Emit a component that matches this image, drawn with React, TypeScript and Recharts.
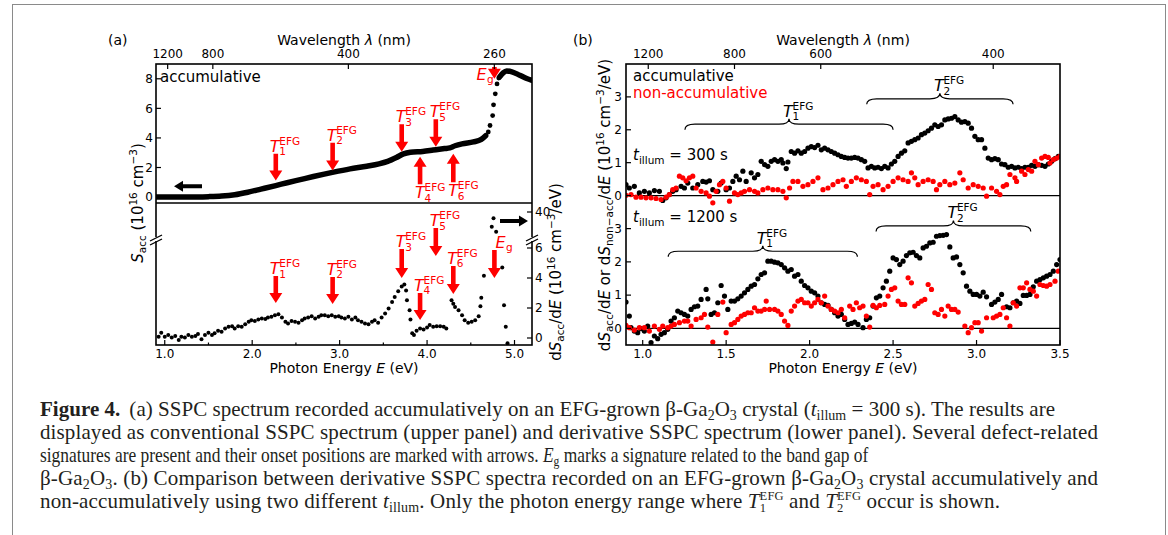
import { ComposedChart, Scatter, Line, XAxis, YAxis, ReferenceLine } from "recharts";

const FONT = "'DejaVu Sans', sans-serif";
const SERIF = "'Liberation Serif', serif";
const RED = "#ff0000";

// (a) conventional SSPC spectrum: [E (eV), S_acc (1e16 cm^-3)]
const aConvSmooth = [
  [0.9, 0.0], [1.1, 0.0], [1.3, 0.01], [1.5, 0.03], [1.65, 0.07], [1.8, 0.16], [1.95, 0.33],
  [2.1, 0.54], [2.27, 0.78], [2.4, 0.97], [2.55, 1.18], [2.7, 1.39], [2.93, 1.69], [3.12, 1.91],
  [3.31, 2.09], [3.45, 2.25], [3.55, 2.42], [3.65, 2.68], [3.73, 2.92], [3.81, 3.03], [3.95, 3.09],
  [4.07, 3.18], [4.2, 3.28], [4.26, 3.33], [4.32, 3.47], [4.4, 3.6], [4.53, 3.73], [4.62, 3.9], [4.67, 4.15],
];
const aConvRise = [[4.7, 4.4], [4.72, 4.84], [4.75, 5.51], [4.76, 6.24], [4.78, 6.98], [4.8, 7.65], [4.82, 8.05]];
const aConvTop = [[4.83, 8.13], [4.87, 8.4], [4.91, 8.53], [4.97, 8.47], [5.06, 8.24], [5.14, 8.02], [5.2, 7.9]];

// (a) derivative spectrum: [E, dS_acc/dE (1e16 cm^-3/eV)]
const aDeriv = [
  [0.93, 0.09], [0.96, 0.35], [1.0, 0.09], [1.04, 0.2], [1.08, 0.04], [1.12, 0.13], [1.16, -0.13], [1.19, 0.09],
  [1.23, 0.04], [1.27, 0.2], [1.31, 0.09], [1.35, 0.13], [1.38, 0.26], [1.42, -0.09], [1.46, 0.2], [1.5, 0.35],
  [1.54, 0.2], [1.57, 0.31], [1.61, 0.48], [1.65, 0.42], [1.69, 0.64], [1.73, 0.75], [1.77, 0.79], [1.8, 0.64],
  [1.84, 0.79], [1.88, 0.75], [1.92, 0.92], [1.96, 1.08], [1.99, 1.19], [2.03, 1.14], [2.07, 1.23], [2.11, 1.3],
  [2.15, 1.27], [2.18, 1.36], [2.22, 1.41], [2.26, 1.52], [2.3, 1.58], [2.34, 1.36], [2.38, 1.08], [2.41, 0.97],
  [2.45, 1.14], [2.49, 1.08], [2.53, 1.01], [2.57, 1.19], [2.6, 1.3], [2.64, 1.36], [2.68, 1.45], [2.72, 1.3],
  [2.76, 1.41], [2.79, 1.52], [2.83, 1.52], [2.87, 1.45], [2.91, 1.52], [2.95, 1.41], [2.99, 1.45], [3.02, 1.36],
  [3.06, 1.3], [3.1, 1.41], [3.14, 1.23], [3.18, 1.36], [3.21, 1.19], [3.25, 1.08], [3.29, 0.97], [3.33, 0.92],
  [3.37, 1.08], [3.4, 1.19], [3.44, 1.01], [3.48, 1.36], [3.52, 1.63], [3.56, 1.96], [3.6, 2.4], [3.63, 2.73],
  [3.67, 3.12], [3.71, 3.43], [3.74, 3.56], [3.76, 3.16], [3.77, 2.51], [3.8, 1.85], [3.81, 1.23], [3.83, 0.31],
  [3.85, 0.2], [3.88, 0.48], [3.92, 0.64], [3.96, 0.57], [4.0, 0.7], [4.03, 0.86], [4.07, 0.75], [4.11, 0.79],
  [4.15, 0.79], [4.19, 0.75], [4.22, 0.64], [4.28, 2.51], [4.3, 2.29], [4.32, 2.07], [4.36, 1.85], [4.4, 1.52],
  [4.43, 1.19], [4.47, 1.01], [4.51, 1.08], [4.55, 1.19], [4.59, 1.45], [4.61, 2.11], [4.62, 2.68], [4.65, 4.15],
  [4.86, 4.7], [4.88, 2.18], [4.9, 0.75], [4.92, -0.35],
];
const aDerivHigh = [[4.74, 39.02], [4.76, 39.58], [4.79, 38.69]];

// (b) derivative spectra: [E, dS/dE]
const bAcc300 = [
  [0.9, 0.33], [0.92, 0.23], [0.95, 0.28], [0.98, 0.08], [1.01, 0.13], [1.04, 0.08], [1.07, 0.15], [1.1, 0.13],
  [1.12, -0.15], [1.14, -0.07], [1.16, 0.03], [1.18, 0.13], [1.2, 0.18], [1.23, 0.28], [1.25, 0.23], [1.27, 0.38],
  [1.3, 0.23], [1.33, 0.33], [1.36, 0.43], [1.38, 0.41], [1.4, 0.45], [1.42, 0.18], [1.45, 0.13], [1.47, 0.38],
  [1.5, 0.18], [1.52, 0.23], [1.54, 0.43], [1.56, 0.59], [1.58, 0.48], [1.6, 0.74], [1.62, 0.43], [1.65, 0.69],
  [1.67, 0.54], [1.69, 0.64], [1.71, 1.04], [1.73, 0.94], [1.75, 0.89], [1.77, 1.04], [1.79, 1.09], [1.81, 1.04],
  [1.83, 1.09], [1.84, 0.99], [1.86, 0.82], [1.87, 1.02], [1.89, 1.34], [1.91, 1.29], [1.93, 1.36], [1.95, 1.29],
  [1.97, 1.34], [1.99, 1.44], [2.01, 1.49], [2.03, 1.46], [2.05, 1.53], [2.07, 1.39], [2.09, 1.44], [2.11, 1.39],
  [2.13, 1.34], [2.15, 1.29], [2.17, 1.24], [2.19, 1.19], [2.21, 1.16], [2.23, 1.14], [2.25, 1.14], [2.27, 1.16],
  [2.29, 1.14], [2.31, 1.09], [2.33, 1.04], [2.35, 0.84], [2.37, 0.89], [2.39, 0.84], [2.41, 0.86], [2.43, 0.82],
  [2.45, 0.89], [2.47, 0.84], [2.49, 0.96], [2.51, 1.04], [2.53, 1.19], [2.55, 1.29], [2.57, 1.36], [2.59, 1.6],
  [2.61, 1.65], [2.63, 1.7], [2.65, 1.75], [2.67, 1.85], [2.69, 1.9], [2.71, 1.97], [2.73, 2.05], [2.75, 2.15],
  [2.77, 2.1], [2.79, 2.15], [2.81, 2.3], [2.83, 2.33], [2.85, 2.35], [2.87, 2.4], [2.89, 2.3], [2.91, 2.23],
  [2.93, 2.25], [2.95, 2.2], [2.97, 2.05], [2.99, 1.8], [3.01, 1.7], [3.03, 1.7], [3.05, 1.44], [3.07, 1.14],
  [3.09, 1.09], [3.11, 1.12], [3.13, 1.09], [3.15, 0.96], [3.17, 0.94], [3.19, 0.86], [3.21, 0.89], [3.23, 0.84],
  [3.25, 0.86], [3.27, 0.82], [3.29, 0.86], [3.31, 0.86], [3.33, 0.92], [3.35, 0.89], [3.37, 0.94], [3.39, 0.92],
  [3.41, 0.89], [3.43, 0.96], [3.45, 1.04], [3.47, 1.12], [3.49, 1.19],
];
const bNon300 = [
  [0.9, 0.01], [0.93, 0.03], [0.96, -0.05], [0.99, -0.05], [1.02, -0.07], [1.05, -0.07], [1.08, -0.09], [1.11, -0.12],
  [1.14, -0.05], [1.16, 0.03], [1.18, 0.18], [1.2, 0.23], [1.22, 0.59], [1.24, 0.54], [1.26, 0.45], [1.28, 0.54],
  [1.3, 0.59], [1.32, 0.23], [1.35, 0.13], [1.38, 0.08], [1.4, -0.02], [1.42, -0.22], [1.44, 0.13], [1.46, 0.33],
  [1.48, 0.43], [1.5, 0.23], [1.52, -0.17], [1.55, 0.08], [1.57, 0.03], [1.59, 0.08], [1.61, 0.13], [1.64, 0.18],
  [1.67, 0.13], [1.69, 0.08], [1.72, 0.18], [1.75, 0.23], [1.78, 0.18], [1.81, 0.18], [1.84, 0.13], [1.86, -0.07],
  [1.88, 0.23], [1.9, 0.43], [1.93, 0.43], [1.96, 0.28], [1.99, 0.33], [2.02, 0.43], [2.05, 0.54], [2.08, 0.18],
  [2.11, 0.23], [2.14, 0.33], [2.17, 0.43], [2.2, 0.48], [2.22, 0.28], [2.25, 0.43], [2.28, 0.54], [2.31, 0.48],
  [2.34, 0.43], [2.36, 0.03], [2.38, 0.28], [2.41, 0.33], [2.44, 0.18], [2.47, 0.28], [2.5, 0.43], [2.53, 0.54],
  [2.56, 0.48], [2.59, 0.43], [2.61, 0.69], [2.63, 0.54], [2.65, 0.33], [2.68, 0.43], [2.71, 0.48], [2.74, 0.43],
  [2.76, 0.18], [2.78, 0.33], [2.81, 0.43], [2.84, 0.33], [2.87, 0.38], [2.9, 0.69], [2.92, 0.48], [2.95, 0.23],
  [2.98, 0.33], [3.01, 0.28], [3.04, 0.23], [3.06, -0.02], [3.09, 0.23], [3.12, 0.13], [3.14, 0.03], [3.16, 0.28],
  [3.18, 0.33], [3.2, 0.64], [3.23, 0.54], [3.24, 0.43], [3.27, 0.74], [3.29, 0.64], [3.31, 0.79], [3.33, 0.74],
  [3.35, 1.04], [3.37, 0.94], [3.39, 1.14], [3.41, 1.19], [3.43, 1.16], [3.44, 0.99], [3.46, 1.09], [3.48, 1.14],
  [3.5, 1.19],
];
const bAcc1200 = [
  [0.9, 0.79], [0.92, 0.37], [0.93, 0.02], [0.95, -0.08], [0.97, -0.13], [0.99, -0.01], [1.01, -0.08], [1.03, 0.07],
  [1.05, -0.43], [1.07, -0.23], [1.09, -0.31], [1.11, -0.18], [1.13, -0.13], [1.15, -0.03], [1.17, 0.22], [1.19, 0.32],
  [1.21, 0.52], [1.23, 0.47], [1.25, 0.42], [1.27, 0.37], [1.29, 0.57], [1.31, 0.65], [1.33, 0.67], [1.35, 0.87],
  [1.38, 1.17], [1.39, 0.89], [1.41, 0.42], [1.43, 0.47], [1.45, 0.77], [1.47, 1.29], [1.49, 0.97], [1.51, 0.57],
  [1.53, 0.82], [1.55, 0.82], [1.57, 0.89], [1.59, 0.97], [1.61, 1.07], [1.63, 1.17], [1.65, 1.27], [1.67, 1.32],
  [1.69, 1.49], [1.71, 1.62], [1.73, 1.67], [1.75, 2.02], [1.77, 2.02], [1.79, 1.99], [1.81, 1.97], [1.83, 1.92],
  [1.85, 1.82], [1.87, 1.72], [1.89, 1.77], [1.91, 1.57], [1.93, 1.62], [1.95, 1.42], [1.97, 1.29], [1.99, 1.22],
  [2.01, 1.12], [2.03, 1.07], [2.05, 0.97], [2.07, 0.77], [2.09, 0.72], [2.11, 0.69], [2.13, 0.57], [2.15, 0.47],
  [2.17, 0.37], [2.19, 0.42], [2.21, 0.27], [2.23, 0.12], [2.25, 0.15], [2.27, 0.19], [2.29, 0.12], [2.32, 0.02],
  [2.34, 0.27], [2.36, 0.32], [2.38, 0.67], [2.4, 0.92], [2.42, 0.97], [2.44, 1.22], [2.46, 1.42], [2.48, 1.72],
  [2.5, 2.12], [2.52, 2.07], [2.54, 1.92], [2.56, 2.02], [2.58, 2.19], [2.6, 2.27], [2.62, 2.29], [2.64, 2.19],
  [2.66, 2.12], [2.68, 2.42], [2.7, 2.47], [2.72, 2.57], [2.74, 2.59], [2.76, 2.77], [2.78, 2.79], [2.8, 2.8],
  [2.82, 2.82], [2.84, 2.45], [2.86, 2.12], [2.88, 2.15], [2.9, 1.92], [2.92, 1.67], [2.94, 1.27], [2.96, 1.12],
  [2.98, 1.02], [3.0, 1.02], [3.02, 0.97], [3.04, 1.09], [3.06, 0.95], [3.09, 0.72], [3.11, 0.79], [3.13, 0.87],
  [3.15, 1.02], [3.18, 0.65], [3.2, 0.62], [3.22, 0.77], [3.24, 0.82], [3.26, 0.75], [3.28, 0.99], [3.3, 0.99],
  [3.32, 1.02], [3.34, 1.25], [3.36, 1.42], [3.38, 1.47], [3.4, 1.52], [3.42, 1.57], [3.44, 1.62], [3.46, 1.72],
  [3.48, 1.92], [3.5, 2.07],
];
const bNon1200 = [
  [0.9, 0.09], [0.92, 0.02], [0.95, -0.05], [0.98, 0.02], [1.01, 0.02], [1.04, -0.08], [1.07, 0.07], [1.1, -0.03],
  [1.12, 0.07], [1.15, 0.02], [1.17, 0.07], [1.19, 0.12], [1.22, 0.17], [1.25, 0.22], [1.27, 0.22], [1.29, 0.07],
  [1.32, 0.27], [1.35, 0.32], [1.37, 0.42], [1.39, 0.04], [1.42, -0.41], [1.45, 0.42], [1.48, 0.79], [1.5, -0.13],
  [1.53, 0.12], [1.55, 0.17], [1.57, 0.27], [1.59, 0.37], [1.61, 0.42], [1.63, 0.47], [1.65, 0.47], [1.67, 0.62],
  [1.69, 0.52], [1.71, 0.52], [1.73, 0.57], [1.74, 0.82], [1.76, 0.57], [1.79, 0.57], [1.81, 0.52], [1.83, 0.42],
  [1.85, 0.22], [1.87, 0.09], [1.89, 0.52], [1.91, 0.67], [1.93, 0.82], [1.95, 0.87], [1.97, 0.77], [1.99, 0.77],
  [2.01, 0.67], [2.03, 0.77], [2.05, 0.87], [2.07, 0.77], [2.09, 0.97], [2.11, 0.67], [2.13, 0.57], [2.15, 0.52],
  [2.17, 0.47], [2.19, 0.57], [2.21, 0.32], [2.24, 0.67], [2.26, 0.57], [2.28, 0.77], [2.3, 0.62], [2.32, 0.67],
  [2.34, 0.37], [2.36, 0.04], [2.38, 0.69], [2.4, 0.62], [2.42, 0.69], [2.45, 0.72], [2.47, 0.97], [2.49, 1.17],
  [2.51, 1.22], [2.53, 0.82], [2.55, 0.72], [2.57, 0.72], [2.59, 1.52], [2.61, 1.37], [2.63, 0.67], [2.65, 0.75],
  [2.67, 0.82], [2.69, 0.87], [2.71, 1.32], [2.73, 1.17], [2.75, 0.47], [2.77, 0.42], [2.79, 0.57], [2.81, 0.37],
  [2.83, 0.67], [2.85, 0.57], [2.87, 0.57], [2.89, 0.49], [2.93, 0.07], [2.95, -0.13], [2.97, 0.02], [2.99, 0.17],
  [3.01, 0.17], [3.03, -0.08], [3.06, 0.32], [3.1, 0.32], [3.12, 0.37], [3.14, 0.42], [3.16, 0.62], [3.18, 0.32],
  [3.2, 0.07], [3.22, 0.77], [3.24, 0.67], [3.26, 1.22], [3.28, 1.22], [3.3, 1.37], [3.32, 1.17], [3.34, 1.12],
  [3.36, 0.97], [3.38, 1.32], [3.4, 1.29], [3.42, 1.27], [3.44, 1.32], [3.47, 1.42], [3.49, 1.72],
];

// tick values and labels
const aWaveLabels = [1200, 800, 400, 260];
const bWaveLabels = [1200, 800, 600, 400];
const aEnergyTicks = [1.0, 1.5, 2.0, 2.5, 3.0, 3.5, 4.0, 4.5, 5.0];
const bEnergyTicks = [1.0, 1.5, 2.0, 2.5, 3.0, 3.5];
const aConvTicks = [0, 2, 4, 6, 8];
const aDerivTicks = [0, 2, 4, 6];
const aDerivHighTicks = [40];
const bTicks = [0, 1, 2, 3];

// onset markers in (a): tail value -> tip value
const aConvMarks = [
  { name: "1", e: 2.27, from: 2.93, to: 1.13 },
  { name: "2", e: 2.92, from: 3.67, to: 1.8 },
  { name: "3", e: 3.71, from: 4.93, to: 3.07 },
  { name: "5", e: 4.1, from: 5.27, to: 3.4 },
  { name: "4", e: 3.92, from: 0.87, to: 2.73 },
  { name: "6", e: 4.3, from: 1.0, to: 2.93 },
  { name: "g", e: 4.77, from: 8.8, to: 8.0 },
];
const aDerivMarks = [
  { name: "1", e: 2.27, from: 4.13, to: 2.33 },
  { name: "2", e: 2.92, from: 4.07, to: 2.27 },
  { name: "3", e: 3.71, from: 5.93, to: 4.0 },
  { name: "5", e: 4.1, from: 7.33, to: 5.47 },
  { name: "4", e: 3.92, from: 3.0, to: 1.2 },
  { name: "6", e: 4.3, from: 4.8, to: 2.93 },
  { name: "g", e: 4.77, from: 5.87, to: 4.0 },
];

// brackets in (b)
const bBrackets300 = [
  { name: "1", e1: 1.253, e2: 2.5, y: 2.17 },
  { name: "2", e1: 2.342, e2: 3.219, y: 2.94 },
];
const bBrackets1200 = [
  { name: "1", e1: 1.153, e2: 2.286, y: 2.32 },
  { name: "2", e1: 2.398, e2: 3.325, y: 3.08 },
];

const xy = (a: number[][]) => a.map(([x, y]) => ({ x, y }));
const waveToE = (l: number) => 1240 / l;

type Side = "left" | "right" | "top" | "bottom";
function tickFor(side: Side, m: number, fmt: ((v: number) => string) | null, minor?: (v: number) => boolean) {
  return (p: any) => {
    const { x, y, payload } = p;
    const v = payload.value;
    const isMinor = minor ? minor(v) : false;
    const len = isMinor ? 2.5 : 5;
    let x1 = x, x2 = x, y1 = y, y2 = y;
    if (side === "left") { x1 = x + m; x2 = x1 + len; }
    else if (side === "right") { x1 = x - m; x2 = x1 - len; }
    else if (side === "top") { y1 = y + m; y2 = y1 + len; }
    else { y1 = y - m; y2 = y1 - len; }
    const label = fmt && !isMinor ? fmt(v) : "";
    const anchor = side === "left" ? "end" : side === "right" ? "start" : "middle";
    const dy = side === "left" || side === "right" ? "0.35em" : side === "bottom" ? "0.71em" : "0";
    return (
      <g>
        <line x1={x1} y1={y1} x2={x2} y2={y2} stroke="#000" strokeWidth={1.2} />
        {label ? (
          <text x={x} y={y} dy={dy} textAnchor={anchor} fontSize={12} fontFamily={FONT} fill="#000">{label}</text>
        ) : null}
      </g>
    );
  };
}

function TLabel({ x, y, n, fill }: { x: number; y: number; n: string; fill: string }) {
  return (
    <g fill={fill} fontFamily={FONT}>
      <text x={x} y={y} fontSize={16} fontStyle="italic">T</text>
      <text x={x + 9.5} y={y - 7} fontSize={10.5}>EFG</text>
      <text x={x + 9.5} y={y + 3.5} fontSize={10.5}>{n}</text>
    </g>
  );
}

function ELabel({ x, y }: { x: number; y: number }) {
  return (
    <g fill={RED} fontFamily={FONT}>
      <text x={x} y={y} fontSize={16} fontStyle="italic">E</text>
      <text x={x + 10.5} y={y + 3.5} fontSize={10.5}>g</text>
    </g>
  );
}

function arrowPoints(x1: number, y1: number, x2: number, y2: number, sw: number, hw: number, hl: number) {
  const dx = x2 - x1, dy = y2 - y1;
  const L = Math.hypot(dx, dy) || 1;
  const ux = dx / L, uy = dy / L, px = -uy, py = ux;
  const bx = x2 - ux * hl, by = y2 - uy * hl;
  const pts = [
    [x1 + px * sw, y1 + py * sw], [bx + px * sw, by + py * sw], [bx + px * hw, by + py * hw], [x2, y2],
    [bx - px * hw, by - py * hw], [bx - px * sw, by - py * sw], [x1 - px * sw, y1 - py * sw],
  ];
  return pts.map((q) => q.join(",")).join(" ");
}

const markShape = (name: string, egLeft: boolean) => (p: any) => {
  const { x1, y1, x2, y2 } = p;
  let label;
  if (name === "g") label = egLeft ? <ELabel x={x2 - 18} y={y2 + 1} /> : <ELabel x={x1 + 1} y={y1 - 2} />;
  else if (y2 < y1) label = <TLabel x={x1 - 5} y={y1 + 14} n={name} fill={RED} />;
  else label = <TLabel x={x1 - 6} y={y1 - 2} n={name} fill={RED} />;
  return (
    <g>
      <polygon points={arrowPoints(x1, y1, x2, y2, 2.3, 6.5, 10)} fill={RED} />
      {label}
    </g>
  );
};

const blackArrow = (p: any) => (
  <polygon points={arrowPoints(p.x1, p.y1, p.x2, p.y2, 2, 5.5, 9)} fill="#000" />
);

const braceShape = (name: string) => (p: any) => {
  const { x1, x2, y1: y } = p;
  const xc = (x1 + x2) / 2, r = 10, d = 5.5;
  const path = `M${x1},${y + d} Q${x1},${y} ${x1 + r},${y} L${xc - r},${y} Q${xc},${y} ${xc},${y - d} Q${xc},${y} ${xc + r},${y} L${x2 - r},${y} Q${x2},${y} ${x2},${y + d}`;
  return (
    <g>
      <path d={path} fill="none" stroke="#000" strokeWidth={1.2} />
      <TLabel x={xc - 6} y={y - d - 2} n={name} fill="#000" />
    </g>
  );
};

const dot = (color: string, r: number) => (p: any) => <circle cx={p.cx} cy={p.cy} r={r} fill={color} />;

const ZERO = { top: 0, right: 0, bottom: 0, left: 0 };
const A_DOMAIN = [0.9, 5.2];
const B_DOMAIN = [0.9, 3.5];
const isHalf = (v: number) => Math.abs(v - Math.round(v)) > 0.01;

function PanelA() {
  return (
    <>
      {/* upper: conventional spectrum, plot 156..532 x 64..203 */}
      <div style={{ position: "absolute", left: 116, top: 34 }}>
        <ComposedChart width={416} height={169} margin={ZERO}>
          <XAxis xAxisId={0} type="number" dataKey="x" orientation="top" height={30} domain={A_DOMAIN} allowDataOverflow
            ticks={aWaveLabels.map(waveToE)} interval={0} axisLine={false} tickLine={false} tickSize={0} tickMargin={6}
            tick={tickFor("top", 6, (v) => String(Math.round(1240 / v)))} />
          <XAxis xAxisId="aux" type="number" dataKey="x" orientation="bottom" height={0} domain={A_DOMAIN} allowDataOverflow
            ticks={aEnergyTicks} interval={0} axisLine={false} tickLine={false} tickSize={0} tickMargin={0}
            tick={tickFor("bottom", 0, null, isHalf)} />
          <YAxis type="number" dataKey="y" orientation="left" width={40} domain={[-0.4, 9]} allowDataOverflow
            ticks={aConvTicks} interval={0} axisLine={false} tickLine={false} tickSize={0} tickMargin={3}
            tick={tickFor("left", 3, (v) => String(v))} />
          <Line data={xy(aConvSmooth)} dataKey="y" type="monotone" stroke="#000" strokeWidth={5.5} strokeLinecap="round" dot={false} isAnimationActive={false} />
          <Line data={xy(aConvTop)} dataKey="y" type="monotone" stroke="#000" strokeWidth={5.5} strokeLinecap="round" dot={false} isAnimationActive={false} />
          <Scatter data={xy(aConvRise)} dataKey="y" shape={dot("#000", 2.4)} isAnimationActive={false} />
          <ReferenceLine ifOverflow="visible" segment={[{ x: 1.426, y: 0.73 }, { x: 1.106, y: 0.73 }]} shape={blackArrow} />
          {aConvMarks.map((m) => (
            <ReferenceLine key={"u" + m.name} ifOverflow="visible" segment={[{ x: m.e, y: m.from }, { x: m.e, y: m.to }]} shape={markShape(m.name, true)} />
          ))}
        </ComposedChart>
      </div>
      {/* lower: derivative spectrum, plot 156..532 x 203..345 */}
      <div style={{ position: "absolute", left: 156, top: 203 }}>
        <ComposedChart width={406} height={172} margin={ZERO}>
          <XAxis xAxisId={0} type="number" dataKey="x" orientation="bottom" height={30} domain={A_DOMAIN} allowDataOverflow
            ticks={aEnergyTicks} interval={0} axisLine={false} tickLine={false} tickSize={0} tickMargin={4}
            tick={tickFor("bottom", 4, (v) => v.toFixed(1), isHalf)} />
          <XAxis xAxisId="aux" type="number" dataKey="x" orientation="top" height={0} domain={A_DOMAIN} allowDataOverflow
            ticks={aEnergyTicks} interval={0} axisLine={false} tickLine={false} tickSize={0} tickMargin={0}
            tick={tickFor("top", 0, null, isHalf)} />
          <YAxis type="number" dataKey="y" orientation="right" width={30} domain={[-0.467, 9]} allowDataOverflow
            ticks={aDerivTicks} interval={0} axisLine={false} tickLine={false} tickSize={0} tickMargin={3}
            tick={tickFor("right", 3, (v) => String(v))} />
          <Scatter data={xy(aDeriv)} dataKey="y" shape={dot("#000", 2)} isAnimationActive={false} />
          <ReferenceLine ifOverflow="visible" segment={[{ x: 4.834, y: 7.8 }, { x: 5.154, y: 7.8 }]} shape={blackArrow} />
          {aDerivMarks.map((m) => (
            <ReferenceLine key={"l" + m.name} ifOverflow="visible" segment={[{ x: m.e, y: m.from }, { x: m.e, y: m.to }]} shape={markShape(m.name, false)} />
          ))}
        </ComposedChart>
      </div>
      {/* lower, broken-axis top part: plot 156..532 x 203..239 */}
      <div style={{ position: "absolute", left: 156, top: 203 }}>
        <ComposedChart width={406} height={36} margin={ZERO}>
          <XAxis type="number" dataKey="x" domain={A_DOMAIN} allowDataOverflow hide />
          <YAxis type="number" dataKey="y" orientation="right" width={30} domain={[38.2, 40.6]} allowDataOverflow
            ticks={aDerivHighTicks} interval={0} axisLine={false} tickLine={false} tickSize={0} tickMargin={3}
            tick={tickFor("right", 3, (v) => String(v))} />
          <Scatter data={xy(aDerivHigh)} dataKey="y" shape={dot("#000", 2)} isAnimationActive={false} />
        </ComposedChart>
      </div>
    </>
  );
}

function PanelB() {
  return (
    <>
      {/* upper: t_illum = 300 s, plot 626..1060 x 64..212 */}
      <div style={{ position: "absolute", left: 586, top: 34 }}>
        <ComposedChart width={474} height={178} margin={ZERO}>
          <XAxis type="number" dataKey="x" orientation="top" height={30} domain={B_DOMAIN} allowDataOverflow
            ticks={bWaveLabels.map(waveToE)} interval={0} axisLine={false} tickLine={false} tickSize={0} tickMargin={6}
            tick={tickFor("top", 6, (v) => String(Math.round(1240 / v)))} />
          <YAxis type="number" dataKey="y" orientation="left" width={40} domain={[-0.5, 4]} allowDataOverflow
            ticks={bTicks} interval={0} axisLine={false} tickLine={false} tickSize={0} tickMargin={4}
            tick={tickFor("left", 4, (v) => String(v))} />
          <ReferenceLine y={0} stroke="#000" strokeWidth={1.2} />
          <Scatter data={xy(bAcc300)} dataKey="y" shape={dot("#000", 2.6)} isAnimationActive={false} />
          <Scatter data={xy(bNon300)} dataKey="y" shape={dot(RED, 2.6)} isAnimationActive={false} />
          {bBrackets300.map((b) => (
            <ReferenceLine key={"b3" + b.name} ifOverflow="visible" segment={[{ x: b.e1, y: b.y }, { x: b.e2, y: b.y }]} shape={braceShape(b.name)} />
          ))}
        </ComposedChart>
      </div>
      {/* lower: t_illum = 1200 s, plot 626..1060 x 212..345 */}
      <div style={{ position: "absolute", left: 586, top: 212 }}>
        <ComposedChart width={474} height={163} margin={ZERO}>
          <XAxis type="number" dataKey="x" orientation="bottom" height={30} domain={B_DOMAIN} allowDataOverflow
            ticks={bEnergyTicks} interval={0} axisLine={false} tickLine={false} tickSize={0} tickMargin={4}
            tick={tickFor("bottom", 4, (v) => v.toFixed(1))} />
          <YAxis type="number" dataKey="y" orientation="left" width={40} domain={[-0.5, 3.5]} allowDataOverflow
            ticks={bTicks} interval={0} axisLine={false} tickLine={false} tickSize={0} tickMargin={4}
            tick={tickFor("left", 4, (v) => String(v))} />
          <ReferenceLine y={0} stroke="#000" strokeWidth={1.2} />
          <Scatter data={xy(bAcc1200)} dataKey="y" shape={dot("#000", 2.6)} isAnimationActive={false} />
          <Scatter data={xy(bNon1200)} dataKey="y" shape={dot(RED, 2.6)} isAnimationActive={false} />
          {bBrackets1200.map((b) => (
            <ReferenceLine key={"b12" + b.name} ifOverflow="visible" segment={[{ x: b.e1, y: b.y }, { x: b.e2, y: b.y }]} shape={braceShape(b.name)} />
          ))}
        </ComposedChart>
      </div>
    </>
  );
}

function Texts() {
  const S = 10.5;
  const sub = 14;
  return (
    <svg width={1168} height={535} style={{ position: "absolute", left: 0, top: 0, pointerEvents: "none" }} fontFamily={FONT} fill="#000">
      {/* frames */}
      <rect x={156} y={64} width={376} height={281} fill="none" stroke="#000" strokeWidth={1.6} />
      <line x1={156} y1={203} x2={532} y2={203} stroke="#000" strokeWidth={1.6} />
      <rect x={626} y={64} width={434} height={281} fill="none" stroke="#000" strokeWidth={1.6} />
      {/* axis break marks */}
      {[156, 532].map((x) => (
        <g key={x}>
          <rect x={x - 3} y={237} width={6} height={4} fill="#fff" />
          <line x1={x - 6} y1={241} x2={x + 6} y2={235} stroke="#000" strokeWidth={1.3} />
          <line x1={x - 6} y1={245} x2={x + 6} y2={239} stroke="#000" strokeWidth={1.3} />
        </g>
      ))}

      <text x={108} y={45} fontSize={14}>(a)</text>
      <text x={573} y={45} fontSize={14}>(b)</text>
      <text x={344} y={45} fontSize={14} textAnchor="middle">Wavelength <tspan fontStyle="italic">λ</tspan> (nm)</text>
      <text x={843} y={45} fontSize={14} textAnchor="middle">Wavelength <tspan fontStyle="italic">λ</tspan> (nm)</text>
      <text x={344} y={373} fontSize={14} textAnchor="middle">Photon Energy <tspan fontStyle="italic">E</tspan> (eV)</text>
      <text x={843} y={373} fontSize={14} textAnchor="middle">Photon Energy <tspan fontStyle="italic">E</tspan> (eV)</text>

      <text x={160} y={82} fontSize={15}>accumulative</text>
      <text x={633} y={81} fontSize={15}>accumulative</text>
      <text x={633} y={98} fontSize={15} fill={RED}>non-accumulative</text>
      <text x={633} y={160} fontSize={15}>
        <tspan fontStyle="italic">t</tspan><tspan fontSize={S} dy={3.5}>illum</tspan><tspan dy={-3.5}>{" = 300 s"}</tspan>
      </text>
      <text x={633} y={222} fontSize={15}>
        <tspan fontStyle="italic">t</tspan><tspan fontSize={S} dy={3.5}>illum</tspan><tspan dy={-3.5}>{" = 1200 s"}</tspan>
      </text>

      {/* y labels */}
      <text transform="translate(143,203) rotate(-90)" textAnchor="middle" fontSize={15}>
        <tspan fontStyle="italic">S</tspan><tspan fontSize={S} dy={3}>acc</tspan><tspan dy={-3}>{" (10"}</tspan>
        <tspan fontSize={S} dy={-6}>16</tspan><tspan dy={6}>{" cm"}</tspan><tspan fontSize={S} dy={-6}>−3</tspan><tspan dy={6}>)</tspan>
      </text>
      <text transform="translate(561,272) rotate(-90)" textAnchor="middle" fontSize={15}>
        d<tspan fontStyle="italic">S</tspan><tspan fontSize={S} dy={3}>acc</tspan><tspan dy={-3}>/d</tspan><tspan fontStyle="italic">E</tspan>
        <tspan>{" (10"}</tspan><tspan fontSize={S} dy={-6}>16</tspan><tspan dy={6}>{" cm"}</tspan><tspan fontSize={S} dy={-6}>−3</tspan><tspan dy={6}>/eV)</tspan>
      </text>
      <text transform="translate(610,205) rotate(-90)" textAnchor="middle" fontSize={15}>
        d<tspan fontStyle="italic">S</tspan><tspan fontSize={S} dy={3}>acc</tspan><tspan dy={-3}>/d</tspan><tspan fontStyle="italic">E</tspan>
        <tspan>{" or d"}</tspan><tspan fontStyle="italic">S</tspan><tspan fontSize={S} dy={3}>non−acc</tspan><tspan dy={-3}>/d</tspan><tspan fontStyle="italic">E</tspan>
        <tspan>{" (10"}</tspan><tspan fontSize={S} dy={-6}>16</tspan><tspan dy={6}>{" cm"}</tspan><tspan fontSize={S} dy={-6}>−3</tspan><tspan dy={6}>/eV)</tspan>
      </text>

      {/* caption */}
      <g fontFamily={SERIF} fontSize={21} fill="#231f20">
        <text x={40} y={416} textLength={1015} lengthAdjust="spacing">
          <tspan fontWeight="bold">Figure 4.</tspan><tspan dx={9}>(a) SSPC spectrum recorded accumulatively on an EFG-grown β-Ga</tspan>
          <tspan fontSize={sub} dy={4}>2</tspan><tspan dy={-4}>O</tspan><tspan fontSize={sub} dy={4}>3</tspan>
          <tspan dy={-4}>{" crystal ("}</tspan><tspan fontStyle="italic">t</tspan><tspan fontSize={sub} dy={4}>illum</tspan>
          <tspan dy={-4}>{" = 300 s). The results are"}</tspan>
        </text>
        <text x={40} y={439} textLength={1058} lengthAdjust="spacing">
          displayed as conventional SSPC spectrum (upper panel) and derivative SSPC spectrum (lower panel). Several defect-related
        </text>
        {/* this line is set tighter in the original */}
        <text transform="translate(40,462) scale(0.83,1)" x={0} y={0} textLength={998} lengthAdjust="spacing">
          {"signatures are present and their onset positions are marked with arrows. "}<tspan fontStyle="italic">E</tspan>
          <tspan fontSize={sub} dy={4}>g</tspan><tspan dy={-4}>{" marks a signature related to the band gap of"}</tspan>
        </text>
        <text x={40} y={485} textLength={1058} lengthAdjust="spacing">
          {"β-Ga"}<tspan fontSize={sub} dy={4}>2</tspan><tspan dy={-4}>O</tspan><tspan fontSize={sub} dy={4}>3</tspan>
          <tspan dy={-4}>{". (b) Comparison between derivative SSPC spectra recorded on an EFG-grown β-Ga"}</tspan>
          <tspan fontSize={sub} dy={4}>2</tspan><tspan dy={-4}>O</tspan><tspan fontSize={sub} dy={4}>3</tspan>
          <tspan dy={-4}>{" crystal accumulatively and"}</tspan>
        </text>
        <text x={40} y={508} textLength={960} lengthAdjust="spacing">
          {"non-accumulatively using two different "}<tspan fontStyle="italic">t</tspan><tspan fontSize={sub} dy={4}>illum</tspan>
          <tspan dy={-4}>{". Only the photon energy range where "}</tspan><tspan fontStyle="italic">T</tspan>
          <tspan fontSize={12.5} dy={4}>1</tspan><tspan fontSize={12.5} dx={-6.5} dy={-12}>EFG</tspan>
          <tspan dy={8}>{" and "}</tspan><tspan fontStyle="italic">T</tspan>
          <tspan fontSize={12.5} dy={4}>2</tspan><tspan fontSize={12.5} dx={-6.5} dy={-12}>EFG</tspan>
          <tspan dy={8}>{" occur is shown."}</tspan>
        </text>
      </g>
    </svg>
  );
}

export default function App() {
  return (
    <div style={{ position: "relative", width: 1168, height: 535, background: "#fff", overflow: "hidden" }}>
      <style>{"body{margin:0} .recharts-surface{overflow:visible}"}</style>
      <div style={{ position: "absolute", left: 12, top: 4, width: 1152, height: 600, border: "1.5px solid #8a8a8a" }} />
      <PanelA />
      <PanelB />
      <Texts />
    </div>
  );
}
